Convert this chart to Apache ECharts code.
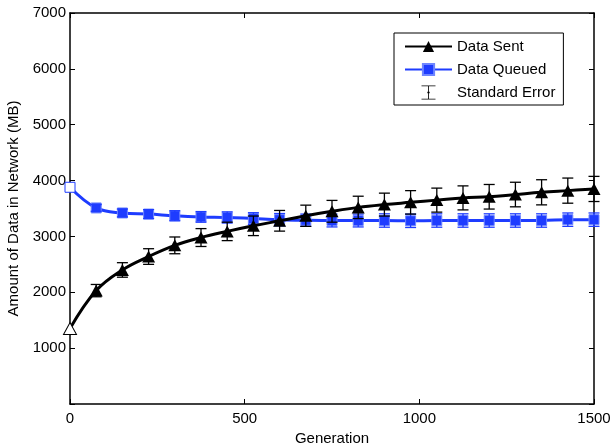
<!DOCTYPE html>
<html>
<head>
<meta charset="utf-8">
<script src="https://cdn.jsdelivr.net/npm/echarts@6/dist/echarts.min.js"></script>
<style>
  html, body { margin: 0; padding: 0; background: #fff; }
  #chart { width: 612px; height: 443px; }
</style>
</head>
<body>
<div id="chart"></div>
<script>
// generations where samples were taken
var generations = [0, 75, 150, 225, 300, 375, 450, 525, 600, 675, 750,
  825, 900, 975, 1050, 1125, 1200, 1275, 1350, 1425, 1500];
var dataSent = [1350, 2030, 2400, 2640, 2840, 2980, 3090, 3190, 3280, 3370, 3450,
  3520, 3570, 3610, 3650, 3690, 3710, 3750, 3790, 3820, 3850];
var sentErr = [0, 110, 130, 140, 150, 160, 165, 175, 185, 190, 195,
  200, 205, 210, 215, 215, 220, 220, 225, 225, 225];
var dataQueued = [3880, 3510, 3420, 3400, 3370, 3350, 3340, 3320, 3300, 3290, 3285,
  3285, 3285, 3280, 3285, 3285, 3285, 3285, 3285, 3300, 3300];
var queuedErr = [0, 60, 70, 80, 90, 95, 100, 105, 110, 110, 115,
  115, 120, 120, 120, 120, 120, 120, 120, 120, 120];
var xTicks = [0, 500, 1000, 1500];
var yTicks = [1000, 2000, 3000, 4000, 5000, 6000, 7000];

var BLUE = '#1e3cff';
var FONT = 'Liberation Sans, Arial, sans-serif';

function pairs(ys, color) {
  return generations.map(function (g, i) {
    var item = { value: [g, ys[i]] };
    if (i === 0) {
      item.itemStyle = { color: '#fff', borderColor: color, borderWidth: 1 };
    }
    return item;
  });
}
function bars(ys, errs) {
  var out = [];
  generations.forEach(function (g, i) {
    if (errs[i] > 0) out.push([g, ys[i] - errs[i], ys[i] + errs[i]]);
  });
  return out;
}
function errorBars(color) {
  return function (params, api) {
    var x = api.value(0);
    var top = api.coord([x, api.value(2)]);
    var bot = api.coord([x, api.value(1)]);
    var w = 5.5;
    var st = { stroke: color, lineWidth: 1.3 };
    return {
      type: 'group',
      children: [
        { type: 'line', shape: { x1: top[0], y1: top[1], x2: bot[0], y2: bot[1] }, style: st },
        { type: 'line', shape: { x1: top[0] - w, y1: top[1], x2: top[0] + w, y2: top[1] }, style: st },
        { type: 'line', shape: { x1: bot[0] - w, y1: bot[1], x2: bot[0] + w, y2: bot[1] }, style: st }
      ]
    };
  };
}

var chart = echarts.init(document.getElementById('chart'));
var axisLine = { show: true, onZero: false, lineStyle: { color: '#000', width: 1.5 } };
var tick = { show: true, inside: true, length: 5, lineStyle: { color: '#000' } };

chart.setOption({
  animation: false,
  textStyle: { fontFamily: FONT },
  grid: { left: 70, right: 18, top: 13, bottom: 39, outerBoundsMode: 'none', containLabel: false },
  legend: {
    orient: 'vertical',
    left: 394,
    top: 33,
    padding: [6, 8, 5, 10],
    itemWidth: 47,
    itemHeight: 14,
    itemGap: 8,
    borderColor: '#000',
    borderWidth: 1,
    backgroundColor: '#fff',
    textStyle: { fontFamily: FONT, fontSize: 15, color: '#000' },
    data: [
      { name: 'Data Sent' },
      { name: 'Data Queued' },
      { name: 'Standard Error',
        icon: 'path://M0,0h20v1.2h-9.4v7.8h1v2h-1v7.8h9.4v1.2h-20v-1.2h9.4v-7.8h-1v-2h1v-7.8h-9.4z' }
    ]
  },
  xAxis: [{
    type: 'value', min: 0, max: 1500, interval: 500,
    name: 'Generation', nameLocation: 'middle', nameGap: 23,
    nameTextStyle: { fontSize: 15, color: '#000', fontFamily: FONT },
    axisLine: axisLine, axisTick: tick,
    axisLabel: { color: '#000', fontSize: 15, margin: 7, fontFamily: FONT,
      formatter: function (v) { return xTicks.indexOf(v) >= 0 ? String(v) : ''; } },
    splitLine: { show: false }
  }, {
    type: 'value', min: 0, max: 1500, interval: 500, position: 'top',
    axisLine: axisLine, axisTick: tick, axisLabel: { show: false }, splitLine: { show: false }
  }],
  yAxis: [{
    type: 'value', min: 0, max: 7000, interval: 1000,
    name: 'Amount of Data in Network (MB)', nameLocation: 'middle', nameGap: 41,
    nameTextStyle: { fontSize: 15, color: '#000', fontFamily: FONT },
    axisLine: axisLine, axisTick: tick,
    axisLabel: { color: '#000', fontSize: 15, margin: 4, fontFamily: FONT,
      formatter: function (v) { return yTicks.indexOf(v) >= 0 ? String(v) : ''; } },
    splitLine: { show: false }
  }, {
    type: 'value', min: 0, max: 7000, interval: 1000, position: 'right',
    axisLine: axisLine, axisTick: tick, axisLabel: { show: false }, splitLine: { show: false }
  }],
  series: [
    {
      name: 'Data Queued',
      type: 'line',
      smooth: 0.4,
      data: pairs(dataQueued, BLUE),
      symbol: 'rect',
      symbolSize: 10,
      color: BLUE,
      lineStyle: { color: BLUE, width: 3 },
      itemStyle: { color: BLUE, borderColor: '#6f86ff', borderWidth: 1 },
      z: 3
    },
    {
      name: 'Queued Error',
      type: 'custom',
      renderItem: errorBars(BLUE),
      data: bars(dataQueued, queuedErr),
      encode: { x: 0, y: [1, 2] },
      z: 4
    },
    {
      name: 'Data Sent',
      type: 'line',
      smooth: 0.4,
      data: pairs(dataSent, '#000'),
      symbol: 'triangle',
      symbolSize: [13, 12],
      color: '#000',
      lineStyle: { color: '#000', width: 3 },
      itemStyle: { color: '#000' },
      z: 5
    },
    {
      name: 'Standard Error',
      type: 'custom',
      renderItem: errorBars('#000'),
      data: bars(dataSent, sentErr),
      encode: { x: 0, y: [1, 2] },
      itemStyle: { color: '#000' },
      z: 6
    }
  ]
});
</script>
</body>
</html>
